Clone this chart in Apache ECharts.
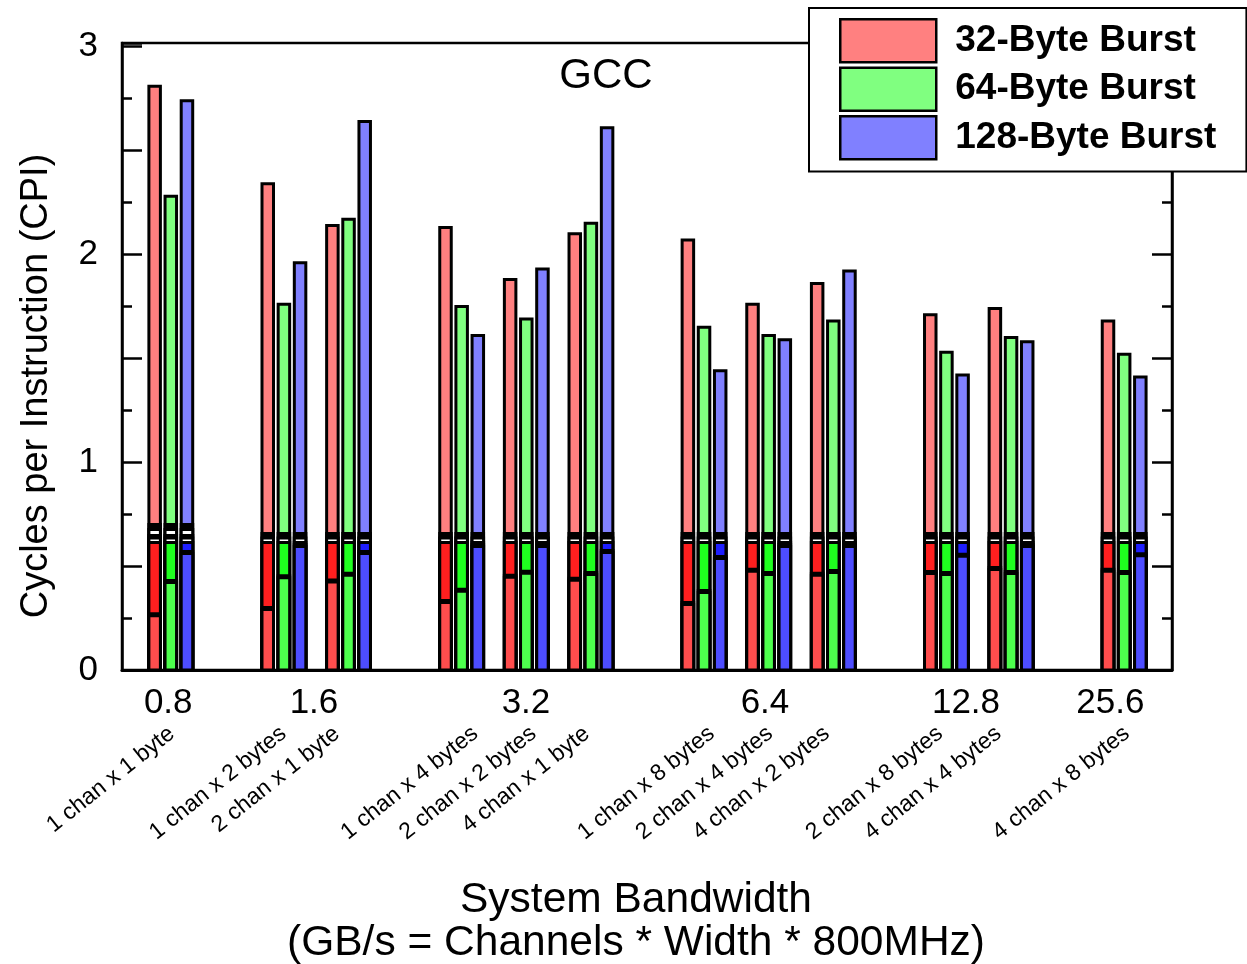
<!DOCTYPE html>
<html>
<head>
<meta charset="utf-8">
<script src="https://cdn.jsdelivr.net/npm/echarts@6/dist/echarts.min.js"></script>
<style>
html,body{margin:0;padding:0;background:#fff;}
#chart{width:1247px;height:964px;}
</style>
</head>
<body>
<div id="chart"></div>
<script>
// ---- data ----
const configLabels = ['1 chan x 1 byte', '1 chan x 2 bytes', '2 chan x 1 byte',
  '1 chan x 4 bytes', '2 chan x 2 bytes', '4 chan x 1 byte',
  '1 chan x 8 bytes', '2 chan x 4 bytes', '4 chan x 2 bytes',
  '2 chan x 8 bytes', '4 chan x 4 bytes', '4 chan x 8 bytes'];
const groupLabels = ['0.8', '1.6', '3.2', '6.4', '12.8', '25.6'];
const seriesNames = ['32-Byte Burst', '64-Byte Burst', '128-Byte Burst'];

// total CPI (top of each bar)
const total32  = [2.81, 2.34, 2.14, 2.13, 1.88, 2.10, 2.07, 1.76, 1.86, 1.71, 1.74, 1.68];
const total64  = [2.28, 1.76, 2.17, 1.75, 1.69, 2.15, 1.65, 1.61, 1.68, 1.53, 1.60, 1.52];
const total128 = [2.74, 1.96, 2.64, 1.61, 1.93, 2.61, 1.44, 1.59, 1.92, 1.42, 1.58, 1.41];
// boundary between the two lower components
const split32  = [0.261, 0.291, 0.424, 0.325, 0.447, 0.432, 0.315, 0.475, 0.456, 0.464, 0.484, 0.475];
const split64  = [0.421, 0.444, 0.456, 0.379, 0.466, 0.460, 0.373, 0.460, 0.469, 0.460, 0.464, 0.464];
const split128 = [0.561, 0.594, 0.561, 0.594, 0.594, 0.565, 0.537, 0.594, 0.594, 0.548, 0.594, 0.550];
// thin component levels (per configuration)
const upperBlack = [0.700, null, null, null, null, null, null, null, null, null, null, null];
const upperWhite = [0.676, null, null, null, null, null, null, null, null, null, null, null];
const bandTop    = [0.647, 0.657, 0.657, 0.657, 0.657, 0.657, 0.657, 0.657, 0.657, 0.657, 0.657, 0.657];
const sliverTop  = [0.635, 0.635, 0.635, 0.635, 0.635, 0.635, 0.635, 0.635, 0.635, 0.635, 0.635, 0.635];
const satTop     = [0.6136, 0.6136, 0.6136, 0.6136, 0.6136, 0.6136, 0.6136, 0.6136, 0.6136, 0.6136, 0.6136, 0.6136];

// ---- layout (slot positions on the x value axis) ----
const clusterSlot = [0, 7, 11, 18, 22, 26, 33, 37, 41, 48, 52, 59];
const groupLabelAt = [0.84, 9.86, 22.98, 37.77, 50.21, 59.15];
const configLabelAt = [1.06, 7.98, 11.28, 19.84, 23.45, 26.75, 34.48, 38.09, 41.60, 48.61, 52.22, 60.16];

const FONT = '"Liberation Sans", Arial, sans-serif';
const BAR_W = 11.5;
const bursts = [
  {name: seriesNames[0], total: total32, split: split32, light: '#ff8080', sat: '#ff1f1f', mid: '#ff4d4d', off: 0},
  {name: seriesNames[1], total: total64, split: split64, light: '#80ff80', sat: '#1fff1f', mid: '#4dff4d', off: 1},
  {name: seriesNames[2], total: total128, split: split128, light: '#8080ff', sat: '#1f1fff', mid: '#4d4dff', off: 2}
];

function makeRender(color) {
  return function (params, api) {
    const x = api.value(0), top = api.value(1);
    const p0 = api.coord([x, 0]);
    const p1 = api.coord([x, top]);
    return {
      type: 'rect',
      shape: {x: p0[0] - BAR_W / 2, y: p1[1], width: BAR_W, height: p0[1] - p1[1]},
      style: {fill: color, stroke: '#000', lineWidth: 3}
    };
  };
}

const series = [];
bursts.forEach(function (b) {
  const layers = [
    {name: b.name, color: b.light, vals: b.total},
    {name: b.name + ' a', color: '#000', vals: upperBlack},
    {name: b.name + ' b', color: '#fff', vals: upperWhite},
    {name: b.name + ' c', color: '#000', vals: bandTop},
    {name: b.name + ' d', color: '#fff', vals: sliverTop},
    {name: b.name + ' e', color: b.sat, vals: satTop},
    {name: b.name + ' f', color: '#000', vals: b.split.map(function (v) { return v + 0.0096; })},
    {name: b.name + ' g', color: b.mid, vals: b.split}
  ];
  layers.forEach(function (L, li) {
    const data = [];
    L.vals.forEach(function (v, i) {
      if (v != null) data.push([clusterSlot[i] + b.off, v]);
    });
    series.push({
      type: 'custom',
      name: L.name,
      xAxisIndex: 0,
      yAxisIndex: 0,
      z: 2 + li,
      silent: true,
      animation: false,
      encode: {x: 0, y: 1},
      itemStyle: {color: L.color, borderColor: '#000', borderWidth: 3},
      renderItem: makeRender(L.color),
      data: data
    });
  });
});

function nearestLabel(v, at, labels) {
  for (let i = 0; i < at.length; i++) {
    if (Math.abs(at[i] - v) < 1e-6) return labels[i];
  }
  return '';
}

const yCommon = {
  type: 'value', min: 0, max: 3.018, interval: 0.5,
  axisLine: {show: true, onZero: false, lineStyle: {color: '#000', width: 2.5}},
  axisTick: {show: true, inside: true, length: 20, lineStyle: {color: '#000', width: 2.5}},
  minorTick: {show: true, splitNumber: 2, length: 10, lineStyle: {color: '#000', width: 2.5}},
  splitLine: {show: false}
};

const chart = echarts.init(document.getElementById('chart'));
chart.setOption({
  animation: false,
  backgroundColor: '#fff',
  grid: {left: 122, right: 75, top: 43, bottom: 294, show: true, borderColor: '#000', borderWidth: 2.5, backgroundColor: 'transparent'},
  legend: {
    data: seriesNames, orient: 'vertical', left: 809, top: 8,
    itemWidth: 96, itemHeight: 43, itemGap: 3, icon: 'rect',
    padding: [10, 30, 11, 30], borderColor: '#000', borderWidth: 2,
    backgroundColor: '#fff', selectedMode: false,
    itemStyle: {borderColor: '#000', borderWidth: 2.5},
    textStyle: {fontSize: 37, fontWeight: 'bold', color: '#000', fontFamily: FONT, padding: [3, 0, 0, 14]}
  },
  xAxis: [
    {
      type: 'value', min: -2.02, max: 62.96, position: 'bottom',
      axisLine: {show: true, onZero: false, lineStyle: {color: '#000', width: 3}},
      axisTick: {show: false}, splitLine: {show: false},
      axisLabel: {
        customValues: groupLabelAt, margin: 16, fontSize: 35, color: '#000', fontFamily: FONT,
        formatter: function (v) { return nearestLabel(v, groupLabelAt, groupLabels); }
      }
    },
    {
      type: 'value', min: -2.02, max: 62.96, position: 'bottom',
      axisLine: {show: false, onZero: false}, axisTick: {show: false}, splitLine: {show: false},
      axisLabel: {
        customValues: configLabelAt, margin: 61, rotate: 38.5, fontSize: 23, color: '#000', fontFamily: FONT,
        formatter: function (v) { return nearestLabel(v, configLabelAt, configLabels); }
      }
    }
  ],
  yAxis: [
    Object.assign({}, yCommon, {
      position: 'left',
      axisLabel: {
        margin: 24, fontSize: 35, color: '#000', fontFamily: FONT, padding: [5, 0, 0, 0],
        formatter: function (v) { return Math.abs(v - Math.round(v)) < 1e-6 ? String(Math.round(v)) : ''; }
      }
    }),
    Object.assign({}, yCommon, {position: 'right', axisLabel: {show: false}})
  ],
  graphic: [
    {type: 'text', x: 606, y: 76, style: {text: 'GCC', font: '42px ' + FONT, fill: '#000', align: 'center', verticalAlign: 'middle'}},
    {type: 'text', x: 37, y: 386, rotation: Math.PI / 2, style: {text: 'Cycles per Instruction (CPI)', font: '38px ' + FONT, fill: '#000', align: 'center', verticalAlign: 'middle'}},
    {type: 'text', x: 636, y: 900, style: {text: 'System Bandwidth', font: '42.5px ' + FONT, fill: '#000', align: 'center', verticalAlign: 'middle'}},
    {type: 'text', x: 636, y: 943, style: {text: '(GB/s = Channels * Width * 800MHz)', font: '42.5px ' + FONT, fill: '#000', align: 'center', verticalAlign: 'middle'}}
  ],
  series: series
});
</script>
</body>
</html>
